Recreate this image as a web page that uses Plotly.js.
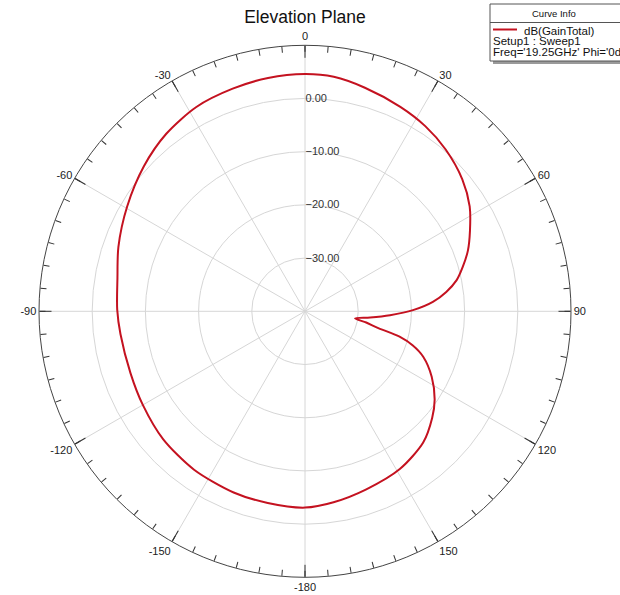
<!DOCTYPE html>
<html>
<head>
<meta charset="utf-8">
<script src="https://cdn.plot.ly/plotly-3.0.1.min.js"></script>
<style>html,body{margin:0;padding:0;background:#fff;}#chart{width:620px;height:595px;}</style>
</head>
<body>
<div id="chart"></div>
<script>
// Data (theta in degrees, gain in dB)
const thetaDeg = [0, 7, 15, 25, 33, 41, 50, 57.5, 64, 69.5, 74.3, 78.4, 82.2, 85.8, 89.4, 92.6, 95.4, 98, 100.4, 102.7, 105, 107.5, 111, 117.3, 124.3, 130, 138, 149, 161, 171.5, 180, 191, 201.5, 215, 228, 240, 250.5, 263, 270.5, 280, 289, 300.5, 312, 322, 332, 342, 351, 360];
const gainDb = [4.6, 4.4, 3.5, 2.4, 1.5, 0.3, -1.4, -3.3, -5.5, -7.3, -9.2, -10.9, -13.2, -15.9, -19.7, -24.0, -27.7, -30.5, -28.3, -26.1, -21.6, -18.8, -16.2, -13.2, -10.5, -8.8, -6.8, -5.4, -4.6, -3.7, -3.1, -3.3, -3.4, -3.65, -4.1, -4.8, -5.2, -5.05, -4.7, -4.2, -2.9, -1.2, 0.75, 2.35, 3.5, 4.0, 4.4, 4.6];
const angTickVals = [0, 30, 60, 90, 120, 150, 180, 210, 240, 270, 300, 330];
const angTickText = ['0', '30', '60', '90', '120', '150', '-180', '-150', '-120', '-90', '-60', '-30'];
const minorTickVals = [];
for (let a = 0; a < 360; a += 5) minorTickVals.push(a);
const radTickVals = [-30, -20, -10, 0];
const radRange = [-40, 10];
const seriesName = 'dB(GainTotal)';
const chartTitle = 'Elevation Plane';
const legendHeader = 'Curve Info';
const legendLines = ['Setup1 : Sweep1', "Freq='19.25GHz' Phi='0deg'"];

const W = 620, H = 595;
const px = x => x / W;
const py = y => 1 - y / H;
const cx = 305, cy = 311.3, R = 266;
const dom = {x: [px(cx - R), px(cx + R)], y: [py(cy + R), py(cy - R)]};

const traces = [
  {type: 'scatterpolar', mode: 'lines', r: gainDb, theta: thetaDeg, subplot: 'polar',
   line: {color: 'rgb(196,18,32)', width: 2, shape: 'spline', smoothing: 0.8},
   name: seriesName, showlegend: false, hoverinfo: 'skip'},
  {type: 'scatterpolar', mode: 'lines', r: [], theta: [], subplot: 'polar2', showlegend: false, hoverinfo: 'skip'}
];

const font = 'Arial, "Liberation Sans", sans-serif';
const layout = {
  width: W, height: H,
  margin: {l: 0, r: 0, t: 0, b: 0},
  paper_bgcolor: '#fff',
  showlegend: false,
  title: {text: chartTitle, font: {family: font, size: 17.5, color: '#111'}, x: px(cx), xanchor: 'center', y: 1 - 16.5 / H, yanchor: 'middle', yref: 'container'},
  polar: {
    domain: dom,
    bgcolor: '#fff',
    angularaxis: {
      rotation: 90, direction: 'clockwise',
      tickmode: 'array', tickvals: angTickVals, ticktext: angTickText,
      ticks: 'inside', ticklen: 12, tickwidth: 1, tickcolor: '#333',
      showline: true, linecolor: '#444', linewidth: 1,
      showgrid: true, gridcolor: '#d6d6d6', gridwidth: 1,
      tickfont: {family: font, size: 11, color: '#222'}
    },
    radialaxis: {
      range: radRange, angle: 90, side: 'clockwise', tickmode: 'array', tickvals: radTickVals,
      tickformat: '.2f', showline: false, ticks: '', tickangle: 90, ticklabelshift: 3,
      showgrid: true, gridcolor: '#d6d6d6', gridwidth: 1,
      tickfont: {family: font, size: 11, color: '#333'}
    }
  },
  polar2: {
    domain: dom,
    bgcolor: 'rgba(0,0,0,0)',
    angularaxis: {
      rotation: 90, direction: 'clockwise',
      tickmode: 'array', tickvals: minorTickVals,
      ticks: 'inside', ticklen: 6, tickwidth: 1, tickcolor: '#333',
      showticklabels: false, showline: false, showgrid: false
    },
    radialaxis: {visible: false, range: radRange}
  },
  shapes: [
    {type: 'rect', xref: 'paper', yref: 'paper', x0: px(493), x1: px(628), y0: py(64), y1: py(7), fillcolor: '#9a9a9a', line: {width: 0}, layer: 'above'},
    {type: 'rect', xref: 'paper', yref: 'paper', x0: px(490), x1: px(626), y0: py(61), y1: py(4), fillcolor: '#fff', line: {color: '#555', width: 1}, layer: 'above'},
    {type: 'line', xref: 'paper', yref: 'paper', x0: px(490), x1: px(626), y0: py(22.5), y1: py(22.5), line: {color: '#555', width: 1}, layer: 'above'},
    {type: 'line', xref: 'paper', yref: 'paper', x0: px(493), x1: px(517), y0: py(29.5), y1: py(29.5), line: {color: 'rgb(196,18,32)', width: 2}, layer: 'above'}
  ],
  annotations: [
    {xref: 'paper', yref: 'paper', x: px(554), y: py(13.5), xanchor: 'center', yanchor: 'middle', text: legendHeader, showarrow: false, font: {family: font, size: 9.5, color: '#111'}},
    {xref: 'paper', yref: 'paper', x: px(522), y: py(30.5), xanchor: 'left', yanchor: 'middle', text: seriesName, showarrow: false, font: {family: font, size: 11.5, color: '#111'}},
    {xref: 'paper', yref: 'paper', x: px(491), y: py(41.5), xanchor: 'left', yanchor: 'middle', text: legendLines[0], showarrow: false, font: {family: font, size: 11.5, color: '#111'}},
    {xref: 'paper', yref: 'paper', x: px(491), y: py(52), xanchor: 'left', yanchor: 'middle', text: legendLines[1], showarrow: false, font: {family: font, size: 11.5, color: '#111'}}
  ]
};

Plotly.newPlot('chart', traces, layout, {staticPlot: true, displayModeBar: false});
</script>
</body>
</html>
